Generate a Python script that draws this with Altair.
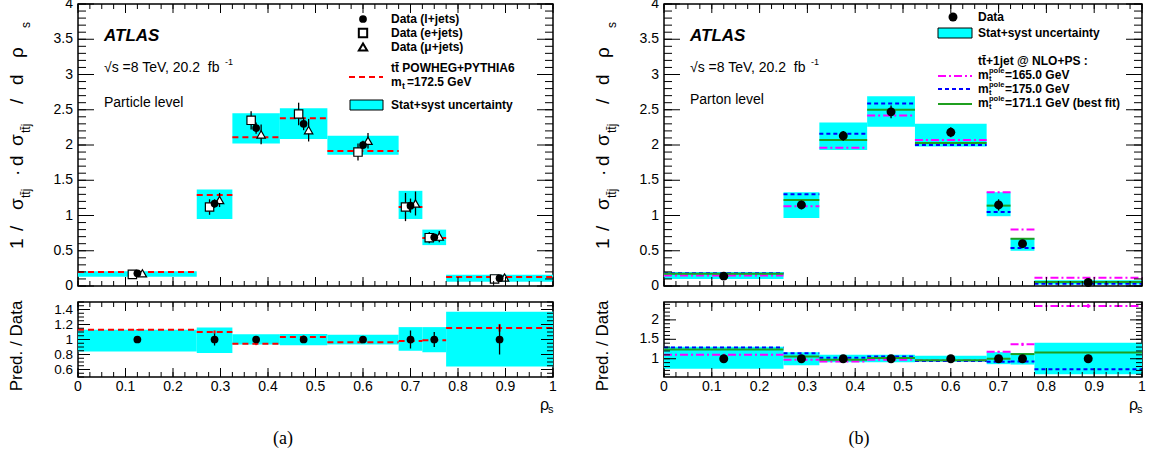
import altair as alt
import pandas as pd
import numpy as np

# ---------------- data ----------------
bin_lo = [0.0, 0.25, 0.325, 0.425, 0.525, 0.675, 0.725, 0.775]
bin_hi = [0.25, 0.325, 0.425, 0.525, 0.675, 0.725, 0.775, 1.0]
bin_c = [0.125, 0.2875, 0.375, 0.475, 0.6, 0.7, 0.75, 0.8875]

# (a) particle level
data_l = [0.18, 1.17, 2.24, 2.30, 2.00, 1.14, 0.69, 0.11]
err_l = [0.01, 0.06, 0.08, 0.09, 0.06, 0.10, 0.05, 0.01]
data_e = [0.165, 1.12, 2.35, 2.44, 1.90, 1.12, 0.685, 0.10]
err_e = [0.015, 0.11, 0.13, 0.16, 0.12, 0.20, 0.08, 0.015]
data_mu = [0.18, 1.22, 2.15, 2.21, 2.06, 1.17, 0.70, 0.12]
err_mu = [0.015, 0.10, 0.14, 0.16, 0.11, 0.17, 0.08, 0.015]
band_lo_a = [0.13, 0.95, 2.02, 2.085, 1.86, 0.95, 0.58, 0.06]
band_hi_a = [0.21, 1.37, 2.45, 2.52, 2.13, 1.35, 0.80, 0.16]
mc_a = [0.20, 1.29, 2.11, 2.38, 1.915, 1.12, 0.68, 0.128]

r_band_lo_a = [0.84, 0.82, 0.935, 0.925, 0.935, 0.85, 0.83, 0.64]
r_band_hi_a = [1.13, 1.16, 1.07, 1.075, 1.065, 1.165, 1.165, 1.37]
r_err_a = [0.03, 0.08, 0.03, 0.04, 0.03, 0.12, 0.10, 0.20]
r_mc_a = [1.13, 1.10, 0.945, 1.035, 0.965, 0.98, 0.99, 1.155]
r_mc_err_a = [0.01, 0.02, 0.02, 0.02, 0.01, 0.03, 0.03, 0.05]

# (b) parton level
data_b = [0.14, 1.15, 2.13, 2.47, 2.18, 1.15, 0.60, 0.05]
err_b = [0.01, 0.06, 0.07, 0.09, 0.07, 0.08, 0.04, 0.01]
band_lo_b = [0.10, 0.965, 1.93, 2.26, 1.98, 0.99, 0.50, 0.02]
band_hi_b = [0.20, 1.33, 2.32, 2.69, 2.30, 1.33, 0.68, 0.08]
m165_b = [0.15, 1.13, 1.96, 2.42, 2.07, 1.33, 0.80, 0.118]
m175_b = [0.18, 1.30, 2.16, 2.59, 2.00, 1.05, 0.54, 0.033]
mfit_b = [0.175, 1.22, 2.07, 2.50, 2.03, 1.14, 0.67, 0.055]

r_band_lo_b = [0.74, 0.83, 0.91, 0.91, 0.92, 0.86, 0.85, 0.60]
r_band_hi_b = [1.31, 1.17, 1.10, 1.10, 1.08, 1.17, 1.14, 1.41]
r_err_b = [0.06, 0.03, 0.03, 0.03, 0.02, 0.04, 0.05, 0.10]
r_165_b = [1.10, 0.975, 0.93, 0.975, 0.96, 1.18, 1.37, 2.36]
r_165_err_b = [0.01, 0.01, 0.01, 0.01, 0.01, 0.02, 0.04, 0.05]
r_175_b = [1.29, 1.14, 1.025, 1.06, 0.94, 0.92, 0.93, 0.73]
r_fit_b = [1.24, 1.06, 0.975, 1.02, 0.96, 1.0, 1.12, 1.16]

# axis tick values / labels
x_major = [0, 0.1, 0.2, 0.3, 0.4, 0.5, 0.6, 0.7, 0.8, 0.9, 1]
x_labels = ["0", "0.1", "0.2", "0.3", "0.4", "0.5", "0.6", "0.7", "0.8", "0.9", "1"]
x_minor = [round(v, 3) for v in np.arange(0, 1.0001, 0.025)]
y_up_major = [0, 0.5, 1, 1.5, 2, 2.5, 3, 3.5, 4]
y_up_labels = ["0", "0.5", "1", "1.5", "2", "2.5", "3", "3.5", "4"]
y_up_minor = [round(v, 2) for v in np.arange(0, 4.001, 0.1)]
y_ra_major = [0.6, 0.8, 1, 1.2, 1.4]
y_ra_labels = ["0.6", "0.8", "1", "1.2", "1.4"]
y_ra_minor = [round(v, 3) for v in np.arange(0.5, 1.5001, 0.05)]
y_rb_major = [1, 1.5, 2]
y_rb_labels = ["1", "1.5", "2"]
y_rb_minor = [round(v, 2) for v in np.arange(0.6, 2.4001, 0.1)]

FONT = "Liberation Sans"
SERIF = "Liberation Serif"
CYAN = "#00FFFF"
RED = "#FF0000"
MAG = "#FF00FF"
BLUE = "#0000FF"
GREEN = "#1f9f1f"

W_A, W_B = 475, 478
H_UP, H_R = 282, 75

df = pd.DataFrame({"lo": bin_lo, "hi": bin_hi, "c": bin_c})
one = pd.DataFrame({"k": [0]})


def X(field):
    return alt.X(field, scale=alt.Scale(domain=[0, 1], nice=False, zero=False), axis=None)


def Y(field, dom):
    return alt.Y(field, scale=alt.Scale(domain=dom, nice=False, zero=False), axis=None)


def y_labels(vals, labs, dom, size=14):
    d = pd.DataFrame({"v": vals, "t": labs})
    return alt.Chart(d).mark_text(font=FONT, fontSize=size, color="black", align="right",
                                  baseline="middle").encode(
        y=Y("v:Q", dom), x=alt.value(-5), text="t:N")


def x_labels_layer(h, size=14):
    d = pd.DataFrame({"v": x_major, "t": x_labels})
    return alt.Chart(d).mark_text(font=FONT, fontSize=size, color="black", align="center",
                                  baseline="middle").encode(
        x=X("v:Q"), y=alt.value(h + 10), text="t:N")


def tick_layers(w, h, dom, ymaj, ymin, ylen_maj, ylen_min, xlen_maj, xlen_min):
    layers = []
    for vals, ln in ((ymin, ylen_min), (ymaj, ylen_maj)):
        d = pd.DataFrame({"v": vals})
        base = alt.Chart(d).mark_rule(color="black", strokeWidth=1)
        layers.append(base.encode(y=Y("v:Q", dom), x=alt.value(0), x2=alt.value(ln)))
        layers.append(base.encode(y=Y("v:Q", dom), x=alt.value(w - ln), x2=alt.value(w)))
    for vals, ln in ((x_minor, xlen_min), (x_major, xlen_maj)):
        d = pd.DataFrame({"v": vals})
        base = alt.Chart(d).mark_rule(color="black", strokeWidth=1)
        layers.append(base.encode(x=X("v:Q"), y=alt.value(h - ln), y2=alt.value(h)))
        layers.append(base.encode(x=X("v:Q"), y=alt.value(0), y2=alt.value(ln)))
    return layers


def txt(s, x, y, size=12, bold=True, italic=False, align="left", angle=0,
        font=FONT, color="black", baseline="middle"):
    kw = dict(text=s, font=font, fontSize=size, align=align, baseline=baseline,
              color=color, angle=angle)
    if bold:
        kw["fontWeight"] = "bold"
    if italic:
        kw["fontStyle"] = "italic"
    return alt.Chart(one).mark_text(**kw).encode(x=alt.value(x), y=alt.value(y))


def hrule(x1, x2, y, color, dash=None, width=2):
    kw = dict(color=color, strokeWidth=width)
    if dash:
        kw["strokeDash"] = dash
    return alt.Chart(one).mark_rule(**kw).encode(x=alt.value(x1), x2=alt.value(x2), y=alt.value(y))


TT = "tt\u0304"


def y_title_upper():
    Xp = -61
    parts = []
    big = [("1", 245), ("/", 227), ("\u03c3", 206), ("\u00b7", 172), ("d", 162),
           ("\u03c3", 142), ("/", 100), ("d", 81), ("\u03c1", 54)]
    for s, y in big:
        parts.append(txt(s, Xp, y, size=19, bold=False, angle=270))
    for s, y in ((TT + "j", 194), (TT + "j", 129), ("s", 24)):
        parts.append(txt(s, Xp + 9, y, size=12, bold=False, angle=270))
    return parts


def y_title_ratio():
    return [txt("Pred. / Data", -61, 44, size=17, bold=False, angle=270, align="center")]


def x_title_ratio(w):
    return [txt("\u03c1", w - 13, 103, size=16, bold=False),
            txt("s", w - 5, 108, size=11, bold=False)]


def band(dfb, dom):
    return alt.Chart(dfb).mark_rect(color=CYAN).encode(
        x=X("lo:Q"), x2="hi:Q", y=Y("blo:Q", dom), y2="bhi:Q")


def step(dfb, col, dom, color, dash=None, width=2):
    kw = dict(color=color, strokeWidth=width)
    if dash:
        kw["strokeDash"] = dash
    return alt.Chart(dfb).mark_rule(**kw).encode(
        x=X("lo:Q"), x2="hi:Q", y=Y(col + ":Q", dom))


def points(dfb, col, ecol, dom, shape="circle", filled=True, dx=0, size=60):
    d = dfb.copy()
    d["elo"] = d[col] - d[ecol]
    d["ehi"] = d[col] + d[ecol]
    err = alt.Chart(d).mark_rule(color="black", strokeWidth=1.3).encode(
        x=X("c:Q"), y=Y("elo:Q", dom), y2="ehi:Q", xOffset=alt.value(dx))
    pt = alt.Chart(d).mark_point(shape=shape, filled=filled, color="black",
                                 size=size, strokeWidth=1.2, opacity=1,
                                 fill="black" if filled else "white").encode(
        x=X("c:Q"), y=Y(col + ":Q", dom), xOffset=alt.value(dx))
    return [err, pt]


def vticks(dfb, col, ecol, dom, color):
    d = dfb.copy()
    d["elo"] = d[col] - d[ecol]
    d["ehi"] = d[col] + d[ecol]
    return alt.Chart(d).mark_rule(color=color, strokeWidth=2).encode(
        x=X("c:Q"), y=Y("elo:Q", dom), y2="ehi:Q")


SQRT_TXT = "\u221as =8 TeV, 20.2\u00a0\u00a0fb"

# ---------------- panel (a) upper ----------------
dA = df.copy()
dA["blo"], dA["bhi"] = band_lo_a, band_hi_a
dA["mc"] = mc_a
dA["dl"], dA["el"] = data_l, err_l
dA["de"], dA["ee"] = data_e, err_e
dA["dm"], dA["em"] = data_mu, err_mu
domU = [0, 4]

upA_layers = [band(dA, domU), y_labels(y_up_major, y_up_labels, domU),
              step(dA, "mc", domU, RED, [6, 4])]
upA_layers += points(dA, "de", "ee", domU, shape="square", filled=False, dx=-5, size=70)
upA_layers += points(dA, "dm", "em", domU, shape="triangle-up", filled=False, dx=5, size=70)
upA_layers += points(dA, "dl", "el", domU)
upA_layers += tick_layers(W_A, H_UP, domU, y_up_major, y_up_minor, 16, 8, 9, 5)
upA_layers += [
    txt("ATLAS", 26, 32, size=17, bold=True, italic=True),
    txt(SQRT_TXT, 26, 64, size=14, bold=False),
    txt("-1", 147, 58, size=9, bold=False),
    txt("Particle level", 26, 99, size=14, bold=False),
    alt.Chart(one).mark_point(shape="circle", filled=True, color="black", size=60, opacity=1)
    .encode(x=alt.value(285), y=alt.value(15)),
    alt.Chart(one).mark_point(shape="square", filled=False, color="black", size=70, opacity=1)
    .encode(x=alt.value(285), y=alt.value(29)),
    alt.Chart(one).mark_point(shape="triangle-up", filled=False, color="black", size=70, opacity=1)
    .encode(x=alt.value(285), y=alt.value(43)),
    txt("Data (l+jets)", 313, 15),
    txt("Data (e+jets)", 313, 29),
    txt("Data (\u03bc+jets)", 313, 43),
    hrule(271, 305, 73, RED, [6, 4]),
    txt(TT + " POWHEG+PYTHIA6", 313, 64),
    txt("m", 313, 78),
    txt("t", 324, 82, size=9),
    txt("=172.5 GeV", 329, 78),
    alt.Chart(one).mark_rect(color=CYAN, stroke="black", strokeWidth=1)
    .encode(x=alt.value(272), x2=alt.value(305), y=alt.value(96), y2=alt.value(106)),
    txt("Stat+syst uncertainty", 313, 101),
]
upA_layers += y_title_upper()
upperA = alt.layer(*upA_layers).properties(width=W_A, height=H_UP)

# ---------------- panel (a) ratio ----------------
rA = df.copy()
rA["blo"], rA["bhi"] = r_band_lo_a, r_band_hi_a
rA["one"] = [1.0] * 8
rA["err"] = r_err_a
rA["mc"], rA["mce"] = r_mc_a, r_mc_err_a
domRA = [0.5, 1.5]
raA_layers = [band(rA, domRA), y_labels(y_ra_major, y_ra_labels, domRA, 13.5),
              x_labels_layer(H_R),
              step(rA, "mc", domRA, RED, [6, 4]),
              vticks(rA, "mc", "mce", domRA, RED)]
raA_layers += points(rA, "one", "err", domRA)
raA_layers += tick_layers(W_A, H_R, domRA, y_ra_major, y_ra_minor, 12, 6, 9, 5)
raA_layers += y_title_ratio() + x_title_ratio(W_A)
raA_layers += [txt("(a)", 205, 137, size=18, bold=False, font=SERIF, align="center")]
ratioA = alt.layer(*raA_layers).properties(width=W_A, height=H_R)

# ---------------- panel (b) upper ----------------
dB = df.copy()
dB["blo"], dB["bhi"] = band_lo_b, band_hi_b
dB["m165"], dB["m175"], dB["mfit"] = m165_b, m175_b, mfit_b
dB["d"], dB["e"] = data_b, err_b
upB_layers = [band(dB, domU), y_labels(y_up_major, y_up_labels, domU),
              step(dB, "m165", domU, MAG, [8, 3, 2, 3]),
              step(dB, "m175", domU, BLUE, [4, 3]),
              step(dB, "mfit", domU, GREEN)]
upB_layers += points(dB, "d", "e", domU, size=80)
upB_layers += tick_layers(W_B, H_UP, domU, y_up_major, y_up_minor, 16, 8, 9, 5)
upB_layers += [
    txt("ATLAS", 26, 32, size=17, bold=True, italic=True),
    txt(SQRT_TXT, 26, 64, size=14, bold=False),
    txt("-1", 147, 58, size=9, bold=False),
    txt("Parton level", 26, 96, size=14, bold=False),
    alt.Chart(one).mark_point(shape="circle", filled=True, color="black", size=80, opacity=1)
    .encode(x=alt.value(289), y=alt.value(13)),
    txt("Data", 314, 13),
    alt.Chart(one).mark_rect(color=CYAN, stroke="black", strokeWidth=1)
    .encode(x=alt.value(274), x2=alt.value(308), y=alt.value(24), y2=alt.value(34)),
    txt("Stat+syst uncertainty", 314, 29),
    txt(TT + "+1jet @ NLO+PS :", 314, 57),
    hrule(274, 308, 72, MAG, [8, 3, 2, 3]),
    hrule(274, 308, 85, BLUE, [4, 3]),
    hrule(274, 308, 100, GREEN),
]
for yy, lab in ((71, "=165.0 GeV"), (85, "=175.0 GeV"), (99, "=171.1 GeV (best fit)")):
    upB_layers += [txt("m", 314, yy), txt("pole", 325, yy - 4.5, size=7.5),
                   txt("t", 325, yy + 3.5, size=7.5), txt(lab, 341, yy)]
upB_layers += y_title_upper()
upperB = alt.layer(*upB_layers).properties(width=W_B, height=H_UP)

# ---------------- panel (b) ratio ----------------
rB = df.copy()
rB["blo"], rB["bhi"] = r_band_lo_b, r_band_hi_b
rB["one"] = [1.0] * 8
rB["err"] = r_err_b
rB["r165"], rB["r165e"] = r_165_b, r_165_err_b
rB["r175"], rB["rfit"] = r_175_b, r_fit_b
domRB = [0.53, 2.46]
raB_layers = [band(rB, domRB), y_labels(y_rb_major, y_rb_labels, domRB),
              x_labels_layer(H_R),
              step(rB, "r165", domRB, MAG, [8, 3, 2, 3]),
              vticks(rB, "r165", "r165e", domRB, MAG),
              step(rB, "r175", domRB, BLUE, [4, 3]),
              step(rB, "rfit", domRB, GREEN)]
raB_layers += points(rB, "one", "err", domRB, size=80)
raB_layers += tick_layers(W_B, H_R, domRB, y_rb_major, y_rb_minor, 12, 6, 9, 5)
raB_layers += y_title_ratio() + x_title_ratio(W_B)
raB_layers += [txt("(b)", 195, 137, size=18, bold=False, font=SERIF, align="center")]
ratioB = alt.layer(*raB_layers).properties(width=W_B, height=H_R)

colA = alt.vconcat(upperA, ratioA, spacing=5)
colB = alt.vconcat(upperB, ratioB, spacing=5)

chart = alt.hconcat(colA, colB, spacing=35).properties(
    padding={"left": 7, "top": -4, "right": 0, "bottom": 0},
    background="white",
).configure_view(stroke="black", strokeWidth=1.5)

chart.save("out.html", embed_options={"renderer": "svg", "actions": False})
